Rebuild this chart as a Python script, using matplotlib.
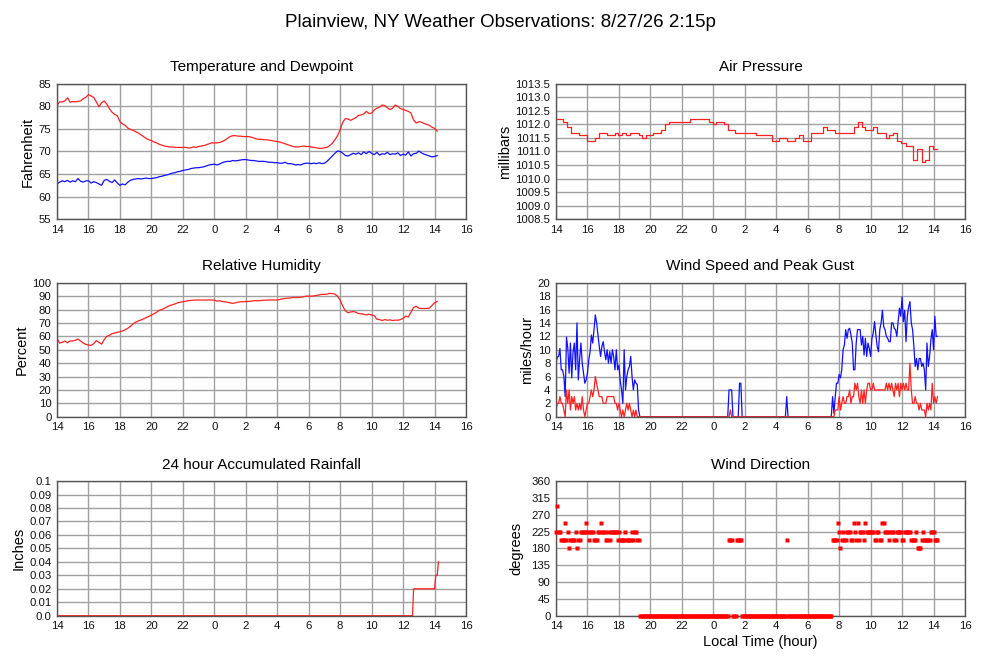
import numpy as np
import matplotlib
matplotlib.use("Agg")
import matplotlib.pyplot as plt

plt.rcParams['font.family'] = ['Liberation Sans', 'DejaVu Sans']

# ---- data ----
# 10 minute samples starting 14:00, hours after midnight of day 1
temperature = [
    80.2, 81.0, 81.0, 81.2, 81.9, 80.9,
    81.1, 81.0, 81.1, 81.2, 81.7, 82.0,
    82.6, 82.3, 82.0, 81.0, 79.9, 80.8,
    81.2, 80.5, 79.5, 78.7, 78.2, 77.9,
    76.6, 76.1, 75.8, 75.2, 74.9, 74.7,
    74.4, 74.1, 73.7, 73.3, 72.9, 72.6,
    72.4, 72.1, 71.9, 71.6, 71.4, 71.2,
    71.1, 71.0, 71.0, 70.9, 70.9, 70.9,
    70.9, 70.9, 70.8, 70.8, 71.0, 70.9,
    71.1, 71.2, 71.3, 71.5, 71.7, 71.9,
    71.9, 71.9, 72.0, 72.2, 72.5, 72.9,
    73.3, 73.5, 73.5, 73.4, 73.4, 73.3,
    73.3, 73.3, 73.2, 73.0, 72.8, 72.7,
    72.7, 72.6, 72.6, 72.5, 72.4, 72.3,
    72.2, 72.1, 71.9, 71.7, 71.5, 71.3,
    71.1, 71.0, 71.0, 71.1, 71.2, 71.1,
    71.1, 71.0, 70.9, 70.8, 70.7, 70.7,
    70.8, 70.9, 71.3, 71.8, 72.6, 73.5,
    74.8, 76.5, 77.3, 77.2, 76.9, 77.2,
    77.5, 78.0, 78.1, 78.3, 78.9, 78.4,
    78.5, 79.2, 79.6, 79.8, 80.3, 80.2,
    79.7, 79.3, 79.6, 80.3, 80.0, 79.5,
    79.3, 79.1, 78.9, 78.5, 77.0, 76.3,
    76.6, 76.5, 76.2, 76.0, 75.8, 75.4,
    75.1, 74.5,
]

dewpoint = [
    62.8, 63.2, 63.5, 63.3, 63.6, 63.2,
    63.5, 63.3, 64.0, 63.4, 63.2, 63.5,
    63.5, 63.0, 63.3, 63.1, 62.8, 62.5,
    63.6, 63.8, 63.4, 63.1, 63.7, 63.0,
    62.5, 62.8, 62.6, 63.2, 63.6, 63.8,
    63.9, 64.0, 63.9, 64.0, 64.1, 64.0,
    64.0, 64.1, 64.2, 64.4, 64.5, 64.7,
    64.8, 65.0, 65.2, 65.3, 65.5, 65.6,
    65.8, 65.9, 66.0, 66.2, 66.3, 66.4,
    66.4, 66.5, 66.6, 66.8, 67.0, 67.1,
    67.2, 67.0, 67.2, 67.5, 67.7, 67.8,
    67.8, 68.0, 67.9, 68.0, 68.1, 68.2,
    68.2, 68.1, 68.0, 68.0, 67.9, 67.8,
    67.8, 67.8, 67.7, 67.6, 67.6, 67.5,
    67.5, 67.4, 67.4, 67.6, 67.3, 67.3,
    67.2, 67.0, 67.1, 67.0, 67.3, 67.4,
    67.4, 67.3, 67.4, 67.3, 67.5, 67.3,
    67.4, 67.8, 68.4, 69.0, 69.6, 70.1,
    70.0, 69.6, 69.1, 69.0, 69.3, 69.6,
    69.4, 69.7, 69.3, 69.9, 69.5, 70.0,
    69.6, 69.3, 69.8, 69.2, 69.5, 69.4,
    69.8, 69.3, 69.5, 69.4, 69.7, 69.1,
    69.4, 69.2, 69.9, 69.0, 69.5, 69.6,
    70.1, 69.7, 69.4, 69.2, 69.0, 68.8,
    68.9, 69.1,
]

humidity = [
    58.5, 55.0, 55.5, 56.5, 55.2, 56.5,
    56.5, 57.0, 58.0, 56.5, 55.0, 54.0,
    53.5, 53.2, 54.5, 56.8, 55.5, 54.2,
    57.5, 60.0, 60.8, 62.0, 62.5, 63.0,
    63.4, 64.0, 65.0, 66.0, 67.5, 69.2,
    70.5, 71.5, 72.2, 73.0, 74.0, 74.8,
    75.9, 76.8, 78.0, 79.5, 80.0, 81.0,
    82.1, 83.0, 83.5, 84.2, 85.0, 85.5,
    85.8, 86.2, 86.6, 86.8, 87.0, 87.1,
    87.1, 87.1, 87.1, 87.1, 87.1, 87.1,
    87.1, 86.3, 86.6, 86.0, 85.8, 85.5,
    85.0, 84.6, 85.0, 85.5, 85.8, 85.8,
    86.0, 86.0, 86.2, 86.6, 86.6, 86.6,
    86.8, 87.0, 87.0, 87.1, 87.1, 87.1,
    87.1, 87.5, 88.0, 88.3, 88.5, 88.6,
    89.0, 89.0, 89.0, 89.2, 89.5, 90.0,
    90.0, 90.0, 90.2, 90.5, 91.0, 91.3,
    91.3, 91.5, 92.0, 92.0, 91.5, 90.0,
    87.0, 82.5, 79.0, 77.6, 78.2, 78.5,
    78.0, 77.0, 76.8, 76.5, 76.0, 76.5,
    75.9, 75.5, 72.8, 72.5, 71.8, 72.5,
    72.0, 72.3, 71.8, 72.1, 72.0, 72.5,
    73.4, 75.1, 74.5, 78.0, 81.5, 82.5,
    81.0, 80.8, 80.8, 80.8, 81.0, 83.0,
    85.0, 86.0,
]

# pressure changes (time in hours, millibars), drawn as steps
pressure_time = [14.0, 14.45, 14.7, 14.95, 15.45, 15.95, 16.5, 16.75, 17.25, 17.75,
                 17.95, 18.2, 18.45, 18.7, 19.25, 19.45, 19.7, 20.15, 20.7, 20.95,
                 21.2, 22.5, 23.7, 24.0, 24.2, 24.7, 24.95, 25.4, 26.7, 27.75,
                 28.2, 28.7, 29.2, 29.45, 29.7, 30.2, 30.95, 31.25, 31.75, 32.95,
                 33.2, 33.45, 33.65, 34.15, 34.4, 34.95, 35.15, 35.45, 35.7, 35.95,
                 36.25, 36.7, 36.95, 37.25, 37.45, 37.7, 37.95, 38.25]
pressure = [1012.2, 1012.1, 1011.9, 1011.7, 1011.6, 1011.4, 1011.5, 1011.7, 1011.6, 1011.7,
            1011.6, 1011.7, 1011.6, 1011.7, 1011.6, 1011.5, 1011.6, 1011.7, 1011.8, 1012.0,
            1012.1, 1012.2, 1012.1, 1012.0, 1012.1, 1012.0, 1011.8, 1011.7, 1011.6, 1011.4,
            1011.5, 1011.4, 1011.5, 1011.6, 1011.4, 1011.7, 1011.9, 1011.8, 1011.7, 1011.9,
            1012.1, 1011.9, 1011.8, 1011.9, 1011.7, 1011.5, 1011.6, 1011.7, 1011.4, 1011.3,
            1011.2, 1010.7, 1011.1, 1010.6, 1010.7, 1011.2, 1011.1, 1011.1]

# 5 minute samples starting 14:00 (mph)
gust = [
    8.0, 8.9, 9.0, 10.2, 7.0, 7.0, 6.0, 3.0, 11.9, 10.2, 6.5, 11.0,
    5.8, 9.7, 11.0, 7.0, 14.0, 5.5, 8.5, 11.0, 8.0, 6.5, 5.0, 5.5,
    6.5, 8.5, 9.7, 12.2, 11.0, 13.0, 15.2, 14.0, 12.2, 10.5, 9.0, 10.5,
    11.2, 9.7, 8.5, 10.0, 8.0, 9.7, 8.0, 10.0, 9.0, 7.0, 10.0, 7.0,
    7.7, 5.3, 4.0, 2.0, 10.0, 4.0, 6.0, 7.0, 7.5, 9.0, 6.0, 4.0,
    5.5, 5.0, 4.8, 1.0, 0, 0, 0, 0, 0, 0, 0, 0,
    0, 0, 0, 0, 0, 0, 0, 0, 0, 0, 0, 0,
    0, 0, 0, 0, 0, 0, 0, 0, 0, 0, 0, 0,
    0, 0, 0, 0, 0, 0, 0, 0, 0, 0, 0, 0,
    0, 0, 0, 0, 0, 0, 0, 0, 0, 0, 0, 0,
    0, 0, 0, 0, 0, 0, 0, 0, 0, 0, 0, 0,
    4, 4, 4, 0, 0, 0, 0, 0, 5, 5, 0, 0,
    0, 0, 0, 0, 0, 0, 0, 0, 0, 0, 0, 0,
    0, 0, 0, 0, 0, 0, 0, 0, 0, 0, 0, 0,
    0, 0, 0, 0, 0, 0, 0, 0, 3, 0, 0, 0,
    0, 0, 0, 0, 0, 0, 0, 0, 0, 0, 0, 0,
    0, 0, 0, 0, 0, 0, 0, 0, 0, 0, 0, 0,
    0, 0, 0, 0, 0, 0, 0, 3.0, 0.5, 3.0, 5.0, 5.0,
    6.3, 5.8, 7.0, 10.0, 10.7, 13.0, 11.7, 13.0, 13.2, 12.2, 11.0, 7.0,
    7.0, 11.0, 13.0, 13.0, 13.0, 10.7, 12.0, 9.2, 11.7, 9.0, 11.0, 10.2,
    9.0, 11.7, 12.5, 14.2, 12.2, 10.5, 9.7, 13.0, 14.0, 15.9, 13.4, 13.0,
    12.0, 11.7, 11.2, 11.2, 14.0, 14.0, 13.2, 13.0, 12.0, 14.2, 16.2, 15.0,
    17.9, 14.2, 15.9, 11.2, 15.0, 16.4, 17.2, 14.0, 13.0, 10.5, 7.5, 8.7,
    7.0, 8.7, 8.7, 7.5, 8.0, 7.0, 4.0, 11.0, 7.5, 9.0, 11.5, 13.0,
    10.0, 15.0, 12.0, 12.0,
]

speed = [
    1, 2, 2, 3, 2, 2, 1, 0, 4, 2, 4, 1,
    3, 2, 3, 1, 2, 1, 2, 1, 3, 1, 0, 1,
    2, 2, 3, 4, 3, 4, 6, 5, 4, 3, 3, 3,
    2, 2, 2, 3, 3, 3, 3, 3, 3, 2, 2, 1,
    2, 1, 0, 1, 0, 1, 2, 1, 2, 1, 0, 1,
    0, 1, 0, 0, 0, 0, 0, 0, 0, 0, 0, 0,
    0, 0, 0, 0, 0, 0, 0, 0, 0, 0, 0, 0,
    0, 0, 0, 0, 0, 0, 0, 0, 0, 0, 0, 0,
    0, 0, 0, 0, 0, 0, 0, 0, 0, 0, 0, 0,
    0, 0, 0, 0, 0, 0, 0, 0, 0, 0, 0, 0,
    0, 0, 0, 0, 0, 0, 0, 0, 0, 0, 0, 0,
    0, 1, 0, 0, 0, 0, 0, 0, 0, 0, 0, 0,
    0, 0, 0, 0, 0, 0, 0, 0, 0, 0, 0, 0,
    0, 0, 0, 0, 0, 0, 0, 0, 0, 0, 0, 0,
    0, 0, 0, 0, 0, 0, 0, 0, 0, 0, 0, 0,
    0, 0, 0, 0, 0, 0, 0, 0, 0, 0, 0, 0,
    0, 0, 0, 0, 0, 0, 0, 0, 0, 0, 0, 0,
    0, 0, 0, 0, 0, 0, 0, 0, 0, 1, 1, 1,
    3, 1, 2, 3, 2, 2, 3, 3, 4, 2, 3, 3,
    5, 4, 5, 3, 2, 4, 2, 4, 2, 4, 5, 5,
    4, 4, 5, 4, 4, 4, 4, 4, 4, 4, 4, 4,
    5, 4, 5, 4, 5, 4, 3, 5, 4, 5, 3, 5,
    4, 5, 4, 5, 4, 4, 8, 4, 2, 2, 3, 2,
    2, 1, 2, 1, 1, 1, 0, 2, 1, 2, 1, 5,
    2, 3, 2, 3,
]

direction = [
    225, 292.5, 225, 225, 202.5, 202.5, 202.5, 247.5, 202.5, 225, 180, 202.5,
    202.5, 202.5, 202.5, 225, 180, 202.5, 202.5, 225, 225, 225, 225, 247.5,
    225, 202.5, 225, 225, 225, 202.5, 202.5, 202.5, 225, 225, 247.5, 225,
    225, 225, 202.5, 202.5, 225, 202.5, 225, 225, 225, 225, 225, 202.5,
    225, 202.5, 202.5, 202.5, 202.5, 225, 202.5, 202.5, 202.5, 202.5, 225, 202.5,
    225, 225, 202.5, 202.5, 0, 0, 0, 0, 0, 0, 0, 0,
    0, 0, 0, 0, 0, 0, 0, 0, 0, 0, 0, 0,
    0, 0, 0, 0, 0, 0, 0, 0, 0, 0, 0, 0,
    0, 0, 0, 0, 0, 0, 0, 0, 0, 0, 0, 0,
    0, 0, 0, 0, 0, 0, 0, 0, 0, 0, 0, 0,
    0, 0, 0, 0, 0, 0, 0, 0, 0, 0, 0, 0,
    202.5, 202.5, 202.5, 0, 0, 0, 202.5, 202.5, 202.5, 202.5, 0, 0,
    0, 0, 0, 0, 0, 0, 0, 0, 0, 0, 0, 0,
    0, 0, 0, 0, 0, 0, 0, 0, 0, 0, 0, 0,
    0, 0, 0, 0, 0, 0, 0, 0, 202.5, 0, 0, 0,
    0, 0, 0, 0, 0, 0, 0, 0, 0, 0, 0, 0,
    0, 0, 0, 0, 0, 0, 0, 0, 0, 0, 0, 0,
    0, 0, 0, 0, 0, 0, 0, 202.5, 202.5, 202.5, 202.5, 247.5,
    225, 180, 202.5, 225, 202.5, 202.5, 225, 225, 225, 202.5, 202.5, 247.5,
    225, 202.5, 247.5, 202.5, 225, 225, 225, 202.5, 247.5, 225, 225, 225,
    225, 225, 225, 202.5, 202.5, 225, 225, 202.5, 202.5, 247.5, 247.5, 225,
    225, 225, 202.5, 225, 225, 225, 202.5, 202.5, 225, 225, 225, 225,
    202.5, 202.5, 225, 225, 225, 225, 225, 202.5, 202.5, 202.5, 202.5, 225,
    180, 180, 180, 202.5, 225, 202.5, 202.5, 202.5, 202.5, 202.5, 225, 225,
    225, 202.5, 202.5, 202.5,
]

# accumulated rain (time in hours, inches)
rain_time = [14.0, 36.6, 36.67, 38.0, 38.08, 38.17, 38.25]
rain = [0.0, 0.0, 0.02, 0.02, 0.03, 0.03, 0.04]

hour_ticks = [14, 16, 18, 20, 22, 24, 26, 28, 30, 32, 34, 36, 38, 40]
hour_labels = ['14', '16', '18', '20', '22', '0', '2', '4', '6', '8', '10', '12', '14', '16']
rain_labels = ['0.0', '0.01', '0.02', '0.03', '0.04', '0.05', '0.06', '0.07', '0.08', '0.09', '0.1']

t10 = 14 + np.arange(len(temperature)) / 6.0
t5 = 14 + np.arange(len(gust)) / 12.0

RED = '#ff2020'
BLUE = '#1010ff'

fig = plt.figure(figsize=(10, 6.6), dpi=100)
fig.text(0.5, 1 - 27 / 660, 'Plainview, NY Weather Observations: 8/27/26 2:15p',
         ha='center', va='baseline', fontsize=13.5)

left_x, right_x = 0.057, 0.556
col_w = 0.409
rows = [(0.668, 0.205), (0.3686, 0.203), (0.0671, 0.204)]


def make_axes(x, row, title, ylabel, ylim, yticks, label_x):
    bottom, height = rows[row]
    ax = fig.add_axes([x, bottom, col_w, height])
    ax.set_xlim(14, 40)
    ax.set_ylim(*ylim)
    ax.set_xticks(hour_ticks)
    ax.set_xticklabels(hour_labels)
    ax.set_yticks(yticks)
    ax.grid(True, color='#a0a0a0', linewidth=1.0)
    ax.set_axisbelow(True)
    ax.tick_params(length=0, labelsize=8.2, pad=4, labelcolor='#111111')
    for s in ax.spines.values():
        s.set_color('#555555')
        s.set_linewidth(1.0)
    ax.set_title(title, fontsize=11, pad=9)
    ax.set_ylabel(ylabel, fontsize=10.5, va='center')
    ax.yaxis.set_label_coords(label_x, 0.5)
    return ax


# Temperature and dewpoint
ax = make_axes(left_x, 0, 'Temperature and Dewpoint', 'Fahrenheit', (55, 85),
               np.arange(55, 86, 5), -0.072)
ax.plot(t10, temperature, color=RED, lw=0.9)
ax.plot(t10, dewpoint, color=BLUE, lw=0.9)

# Air pressure
ax = make_axes(right_x, 0, 'Air Pressure', 'millibars', (1008.5, 1013.5),
               np.arange(1008.5, 1013.6, 0.5), -0.125)
ax.yaxis.set_major_formatter(matplotlib.ticker.FormatStrFormatter('%.1f'))
ax.plot(pressure_time, pressure, color=RED, lw=0.9, drawstyle='steps-post')

# Relative humidity
ax = make_axes(left_x, 1, 'Relative Humidity', 'Percent', (0, 100),
               np.arange(0, 101, 10), -0.086)
ax.plot(t10, humidity, color=RED, lw=0.9)

# Wind speed and gust
ax = make_axes(right_x, 1, 'Wind Speed and Peak Gust', 'miles/hour', (0, 20),
               np.arange(0, 21, 2), -0.072)
ax.plot(t5, gust, color=BLUE, lw=0.9)
ax.plot(t5, speed, color=RED, lw=0.9)

# Rainfall
ax = make_axes(left_x, 2, '24 hour Accumulated Rainfall', 'Inches', (0, 0.1),
               np.linspace(0, 0.1, 11), -0.095)
ax.set_yticklabels(rain_labels)
ax.plot(rain_time, rain, color=RED, lw=0.9)

# Wind direction (markers drawn above the frame so the calm row shows)
ax = make_axes(right_x, 2, 'Wind Direction', 'degrees', (0, 360),
               np.arange(0, 361, 45), -0.096)
ax.plot(t5, direction, 's', color='#ff0000', ms=2.4, mec='none',
        clip_on=False, zorder=5)
ax.set_xlabel('Local Time (hour)', fontsize=10.5, labelpad=3)

fig.savefig('out.png', dpi=100)
